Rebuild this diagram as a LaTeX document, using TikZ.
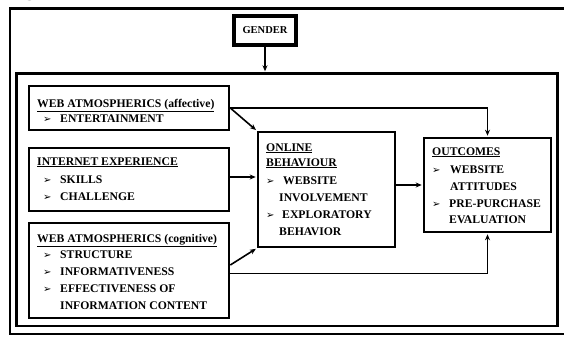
\documentclass[tikz,border=0pt]{standalone}
\usepackage{fontspec}
\setmainfont{Liberation Serif}
\newfontfamily\dejavu{DejaVu Sans}
\usetikzlibrary{arrows.meta}
% one line of text, placed by its baseline
\newcommand\entry[4]{\node[txt] (#1) at (#2,#3) {#4};}
% an arrow bullet in front of a list entry
\newcommand\bulletat[3]{\node[bul] (#1) at (#2,#3) {➢};}
\begin{document}
\begin{tikzpicture}[x=1pt,y=-1pt,
  box/.style={draw,line width=2.6pt,rectangle,inner sep=0pt},
  frame/.style={draw,line width=2.4pt,rectangle,inner sep=0pt},
  conn/.style={line width=1.6pt},
  arr/.style={conn,-{Stealth[length=6pt,width=5pt]},shorten >=1pt},
  txt/.style={anchor=base west,inner sep=0pt,font=\fontsize{11.7}{14}\selectfont\bfseries},
  bul/.style={anchor=base west,inner sep=0pt,font=\dejavu\fontsize{10}{10}\selectfont},
]
\useasboundingbox (0,0) rectangle (564,337);
\clip (0,0) rectangle (564,337);

% caption above the figure
\node[anchor=base west,inner sep=0pt,font=\fontsize{19}{19}\selectfont\bfseries] (cap) at (8,-3) {Figure 1: Online Consumer Behavior Model};

% frames
\draw[frame] (10,8.5) rectangle (570,334);
\node[frame,minimum width=541pt,minimum height=252.5pt] (panel) at (287,199.75) {};

% boxes
\node[box,line width=3.2pt,minimum width=62pt,minimum height=29pt,font=\fontsize{10.5}{12}\selectfont\bfseries] (gender) at (265,30.5) {GENDER};
\node[box,minimum width=200pt,minimum height=44pt] (aff) at (129,108) {};
\node[box,minimum width=200pt,minimum height=63pt] (inet) at (129,179.5) {};
\node[box,minimum width=200pt,minimum height=95pt] (cog) at (129,270.5) {};
\node[box,minimum width=137pt,minimum height=115pt] (onl) at (326.5,189.5) {};
\node[box,minimum width=127pt,minimum height=94pt] (out) at (487.5,185) {};

% web atmospherics (affective)
\entry{affH}{37}{107}{\underline{WEB ATMOSPHERICS (affective)}}
\bulletat{affB1}{43}{122}\entry{affI1}{60}{122}{ENTERTAINMENT}

% internet experience
\entry{inetH}{37}{165}{\underline{INTERNET EXPERIENCE}}
\bulletat{inetB1}{43}{183}\entry{inetI1}{60}{183}{SKILLS}
\bulletat{inetB2}{43}{200}\entry{inetI2}{60}{200}{CHALLENGE}

% web atmospherics (cognitive)
\entry{cogH}{37}{242}{\underline{WEB ATMOSPHERICS (cognitive)}}
\bulletat{cogB1}{43}{258}\entry{cogI1}{60}{258}{STRUCTURE}
\bulletat{cogB2}{43}{275}\entry{cogI2}{60}{275}{INFORMATIVENESS}
\bulletat{cogB3}{43}{292}\entry{cogI3}{60}{292}{EFFECTIVENESS OF}
\entry{cogI3b}{60}{309}{INFORMATION CONTENT}

% online behaviour
\entry{onlH1}{266}{151}{\underline{ONLINE}}
\entry{onlH2}{266}{166}{\underline{BEHAVIOUR}}
\bulletat{onlB1}{266}{184}\entry{onlI1}{283}{184}{WEBSITE}
\entry{onlI1b}{279}{201}{INVOLVEMENT}
\bulletat{onlB2}{266}{218}\entry{onlI2}{282}{218}{EXPLORATORY}
\entry{onlI2b}{279}{235}{BEHAVIOR}

% outcomes
\entry{outH}{432}{155}{\underline{OUTCOMES}}
\bulletat{outB1}{432}{173}\entry{outI1}{450}{173}{WEBSITE}
\entry{outI1b}{450}{190}{ATTITUDES}
\bulletat{outB2}{432}{207}\entry{outI2}{449}{207}{PRE-PURCHASE}
\entry{outI2b}{449}{223}{EVALUATION}

% connectors
\draw[arr] (gender.south) -- (gender.south |- panel.north);
\draw[arr] (aff.east) -| (out.north);
\draw[arr] (aff.east) -- (onl.north west);
\draw[arr] ([yshift=2.5pt]inet.east) -- ([yshift=2.5pt]onl.west |- inet.east);
\draw[arr] ([yshift=5.5pt]cog.east) -- (onl.south west);
\draw[arr] ([yshift=-3pt]cog.east) -| (out.south);
\draw[arr] (onl.east |- out.west) -- (out.west);
\end{tikzpicture}
\end{document}
